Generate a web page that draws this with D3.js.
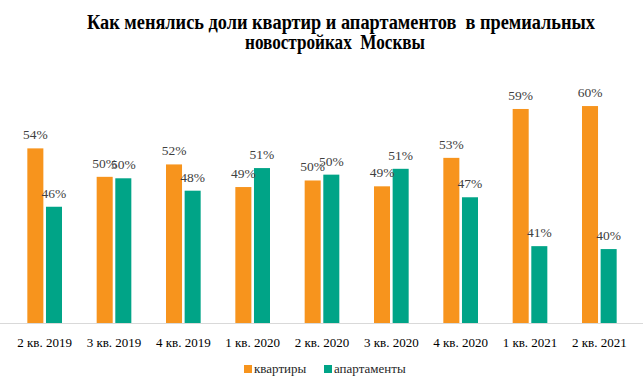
<!DOCTYPE html>
<html>
<head>
<meta charset="utf-8">
<script src="https://cdn.jsdelivr.net/npm/d3@7"></script>
<style>
    body { margin: 0; background: #fff; }
    text { font-family: "Liberation Serif", "Times New Roman", serif; }
</style>
</head>
<body>
<div class="chart__container"></div>
<script>
//initialisation
const CHART__WIDTH = 643;
const CHART__HEIGHT = 382;

const QUARTERS = ["2 кв. 2019", "3 кв. 2019", "4 кв. 2019", "1 кв. 2020", "2 кв. 2020", "3 кв. 2020", "4 кв. 2020", "1 кв. 2021", "2 кв. 2021"];
const FLATS = [54.0, 50.1, 51.8, 48.7, 49.6, 48.8, 52.7, 59.4, 59.8];
const APARTMENTS = [46.0, 49.9, 48.2, 51.3, 50.4, 51.2, 47.3, 40.6, 40.2];
const SERIES = ["квартиры", "апартаменты"];
const COLORS = ["#F7941D", "#00A487"];
const TITLE_LINES = ["Как менялись доли квартир и апартаментов  в премиальных", "новостройках  Москвы"];

const MARGIN = {
    top: 90,
    right: 9,
    bottom: 58.5,
    left: 10
}

//title layout (the original font is narrower than Liberation Serif)
const TITLE_POS = [
    { x: 341, y: 28.5, len: 508 },
    { x: 335, y: 48.5, len: 180 }
]

/*-----------------------------------scales-----------------------------------*/

const xScale = d3.scaleBand().domain(QUARTERS).range([MARGIN.left, CHART__WIDTH - MARGIN.right]).paddingInner(0.5).paddingOuter(0.25);
const xInner = d3.scaleBand().domain(SERIES).range([0, xScale.bandwidth()]).paddingInner(0.14);
const yScale = d3.scaleLinear().domain([30, 62]).range([CHART__HEIGHT - MARGIN.bottom, MARGIN.top]);
const color = d3.scaleOrdinal().domain(SERIES).range(COLORS);

const rows = QUARTERS.map((q, i) => ({
    quarter: q,
    values: [
        { key: SERIES[0], value: FLATS[i] },
        { key: SERIES[1], value: APARTMENTS[i] }
    ]
}))

/*-----------------------------------Create element-----------------------------------*/

const svg = d3.select(".chart__container").append("svg")
    .attr("width", CHART__WIDTH)
    .attr("height", CHART__HEIGHT)

//title

svg.append("g")
    .selectAll("text")
    .data(TITLE_LINES)
    .enter()
    .append("text")
    .attr("x", (d, i) => TITLE_POS[i].x)
    .attr("y", (d, i) => TITLE_POS[i].y)
    .attr("text-anchor", "middle")
    .attr("textLength", (d, i) => TITLE_POS[i].len)
    .attr("lengthAdjust", "spacingAndGlyphs")
    .style("white-space", "pre")
    .style("font-size", "20px")
    .style("font-weight", "bold")
    .attr("fill", "#000")
    .text(d => d)

//bars

const groups = svg.append("g")
    .selectAll(".group")
    .data(rows)
    .enter()
    .append("g")
    .attr("class", "group")
    .attr("transform", d => `translate(${xScale(d.quarter)},0)`)

groups.selectAll("rect")
    .data(d => d.values)
    .enter()
    .append("rect")
    .attr("x", d => xInner(d.key))
    .attr("y", d => yScale(d.value))
    .attr("width", xInner.bandwidth())
    .attr("height", d => yScale(30) - yScale(d.value))
    .attr("fill", d => color(d.key))

groups.selectAll(".label")
    .data(d => d.values)
    .enter()
    .append("text")
    .attr("class", "label")
    .attr("x", d => xInner(d.key) + xInner.bandwidth() / 2)
    .attr("y", d => yScale(d.value) - 9)
    .attr("text-anchor", "middle")
    .style("font-size", "13.5px")
    .attr("fill", "#404040")
    .text(d => Math.round(d.value) + "%")

//x-axis

const abscissa = d3.axisBottom(xScale).tickSize(0).tickPadding(14);
const xAxis = svg.append("g")
    .attr("transform", `translate(0,${yScale(30)})`)
    .call(abscissa)

xAxis.select(".domain").remove();
xAxis.selectAll("text")
    .style("font-size", "13px")
    .attr("fill", "#000")

xAxis.append("line")
    .attr("x1", 0)
    .attr("x2", CHART__WIDTH)
    .attr("stroke", "#d9d9d9")
    .attr("stroke-width", 1)

//legend

const legend = svg.append("g").attr("transform", "translate(244,373)");
const legendX = [0, 80];

const items = legend.selectAll(".item")
    .data(SERIES)
    .enter()
    .append("g")
    .attr("class", "item")
    .attr("transform", (d, i) => `translate(${legendX[i]},0)`)

items.append("rect")
    .attr("x", 0)
    .attr("y", -8)
    .attr("width", 8)
    .attr("height", 8)
    .attr("fill", d => color(d))

items.append("text")
    .attr("x", 10)
    .attr("y", 0)
    .style("font-size", "13px")
    .attr("fill", "#262626")
    .text(d => d)
</script>
</body>
</html>
